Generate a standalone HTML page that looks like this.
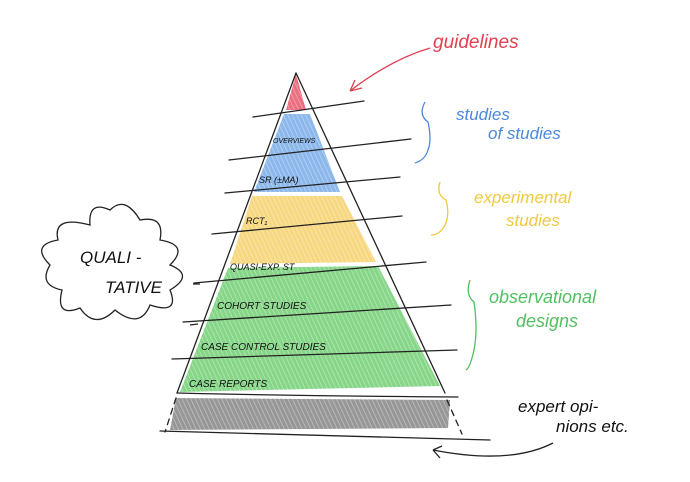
<!DOCTYPE html>
<html><head><style>
html,body{margin:0;padding:0;background:#fff;}
svg{display:block;}
text{font-family:"Liberation Sans",sans-serif;}
</style></head><body>
<svg width="690" height="482" viewBox="0 0 690 482" xmlns="http://www.w3.org/2000/svg">
<defs>
<pattern id="hatch" width="4" height="4" patternUnits="userSpaceOnUse" patternTransform="rotate(-25)">
<line x1="0" y1="0" x2="0" y2="4" stroke="#fff" stroke-width="1.3" opacity="0.45"/>
</pattern>
</defs>
<g opacity="0.85">
<polygon points="296,74 306,110 286,110" fill="#e8566a"/>
<polygon points="284,114 310,114 340,192 254,192" fill="#79ace8"/>
<polygon points="252,196 342,196 376,262 230,264" fill="#f6d26c"/>
<polygon points="228,268 378,266 440,386 180,392" fill="#72cf74"/>
<polygon points="176,398 450,400 448,428 170,430" fill="#858585"/>
</g>
<rect x="0" y="0" width="690" height="482" fill="url(#hatch)"/>
<g stroke="#222" stroke-width="1.3" fill="none" stroke-linecap="round">
<path d="M296,73 L177,393"/>
<path d="M296,73 L445,393"/>
<path d="M176,398 L165,432" stroke-dasharray="6,5"/>
<path d="M447,400 L462,434" stroke-dasharray="6,5"/>
<path d="M253,117 L364,101"/>
<path d="M229,160 L411,139"/>
<path d="M225,193 L400,177"/>
<path d="M212,234 L402,216"/>
<path d="M194,283 L426,262"/>
<path d="M183,322 L451,305"/>
<path d="M172,359 L457,350"/>
<path d="M177,393 Q300,396 458,397"/>
<path d="M160,431 Q330,436 490,440"/>
</g>
<g fill="#111" font-style="italic">
<text x="273" y="143" font-size="7">OVERVIEWS</text>
<text x="259" y="183" font-size="9">SR (±MA)</text>
<text x="246" y="224" font-size="9">RCT₁</text>
<text x="230" y="270" font-size="9">QUASI-EXP. ST</text>
<text x="217" y="309" font-size="10">COHORT  STUDIES</text>
<text x="201" y="350" font-size="10">CASE CONTROL STUDIES</text>
<text x="189" y="387" font-size="10">CASE REPORTS</text>
</g>
<path d="M430,48 Q390,60 350,91 M350,91 L362,88 M350,91 L355,80" stroke="#e04050" stroke-width="1.3" fill="none"/>
<text x="433" y="48" font-size="19" fill="#e04050" font-style="italic" font-family="Liberation Serif">guidelines</text>
<path d="M425,102 Q418,115 428,122 Q432,140 428,150 Q425,160 415,163" stroke="#4a88dc" stroke-width="1.3" fill="none"/>
<text x="456" y="120" font-size="17" fill="#4a88dc" font-style="italic" font-family="Liberation Serif">studies</text>
<text x="488" y="139" font-size="17" fill="#4a88dc" font-style="italic" font-family="Liberation Serif">of studies</text>
<path d="M440,182 Q436,195 446,200 Q450,215 445,225 Q440,235 431,235" stroke="#f0c840" stroke-width="1.3" fill="none"/>
<text x="474" y="203" font-size="17" fill="#f0c840" font-style="italic" font-family="Liberation Serif">experimental</text>
<text x="506" y="226" font-size="17" fill="#f0c840" font-style="italic" font-family="Liberation Serif">studies</text>
<path d="M470,280 Q465,295 474,302 Q478,330 474,350 Q470,368 466,370" stroke="#50c060" stroke-width="1.3" fill="none"/>
<text x="489" y="303" font-size="18" fill="#50c060" font-style="italic" font-family="Liberation Serif">observational</text>
<text x="516" y="327" font-size="18" fill="#50c060" font-style="italic" font-family="Liberation Serif">designs</text>
<text x="518" y="412" font-size="17" fill="#111" font-style="italic" font-family="Liberation Serif">expert opi-</text>
<text x="556" y="432" font-size="17" fill="#111" font-style="italic" font-family="Liberation Serif">nions etc.</text>
<path d="M553,443 Q510,465 433,450 M433,450 L440,458 M433,450 L442,446" stroke="#222" stroke-width="1.3" fill="none"/>
<path d="M90,225 Q88,200 110,210 Q125,195 140,220 Q165,215 160,240 Q190,245 170,265 Q195,275 170,290 Q180,315 150,305 Q140,330 115,310 Q95,330 80,308 Q55,318 62,290 Q38,285 50,265 Q30,245 58,240 Q52,215 90,225 Z" stroke="#222" stroke-width="1.3" fill="#fff"/>
<text x="80" y="263" font-size="17" fill="#111" font-style="italic">QUALI -</text>
<text x="105" y="293" font-size="17" fill="#111" font-style="italic">TATIVE</text>
<path d="M193,284 L200,284 M190,325 L198,324" stroke="#222" stroke-width="1.2"/>
</svg>
</body></html>
